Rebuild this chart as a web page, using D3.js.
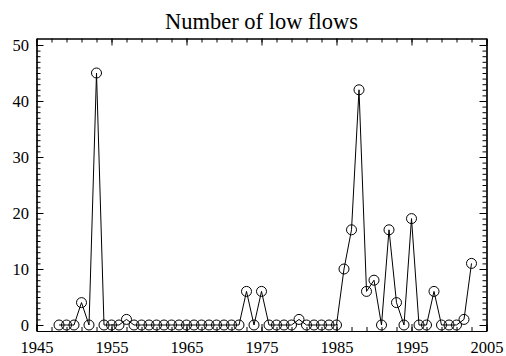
<!DOCTYPE html>
<html>
<head>
<meta charset="utf-8">
<script src="https://cdn.jsdelivr.net/npm/d3@7"></script>
<style>
  html, body { margin: 0; padding: 0; background: #fff; }
  svg text { font-family: "Liberation Serif", "Times New Roman", serif; }
</style>
</head>
<body>
<svg id="chart" width="506" height="356"></svg>
<script>
// Annual count of low-flow events
const years = [
  1948, 1949, 1950, 1951, 1952, 1953, 1954, 1955, 1956, 1957,
  1958, 1959, 1960, 1961, 1962, 1963, 1964, 1965, 1966, 1967,
  1968, 1969, 1970, 1971, 1972, 1973, 1974, 1975, 1976, 1977,
  1978, 1979, 1980, 1981, 1982, 1983, 1984, 1985, 1986, 1987,
  1988, 1989, 1990, 1991, 1992, 1993, 1994, 1995, 1996, 1997,
  1998, 1999, 2000, 2001, 2002, 2003
];
const lowFlows = [
  0, 0, 0, 4, 0, 45, 0, 0, 0, 1,
  0, 0, 0, 0, 0, 0, 0, 0, 0, 0,
  0, 0, 0, 0, 0, 6, 0, 6, 0, 0,
  0, 0, 1, 0, 0, 0, 0, 0, 10, 17,
  42, 6, 8, 0, 17, 4, 0, 19, 0, 0,
  6, 0, 0, 0, 1, 11
];

const xMajorTicks = [1945, 1955, 1965, 1975, 1985, 1995, 2005];
const xMinorTicks = d3.range(1945, 2006, 2);
const yMajorTicks = [0, 10, 20, 30, 40, 50];
const yMinorTicks = d3.range(0, 51, 1);
const xRange = [1945, 2005];
const yRange = [-1.07, 51.16];
const title = "Number of low flows";

const svg = d3.select("#chart");
const plotLeft = 36.5, plotRight = 486.5, plotTop = 38.5, plotBottom = 331;

const x = d3.scaleLinear().domain(xRange).range([plotLeft, plotRight]);
const y = d3.scaleLinear().domain(yRange).range([plotBottom, plotTop]);

const major = 7, minor = 4;
const serif = '"Liberation Serif", "Times New Roman", serif';

function styleAxis(g, fontSize) {
  g.attr("font-family", null).attr("font-size", null);
  g.selectAll("path.domain").attr("stroke", "#000").attr("stroke-width", 1.2);
  g.selectAll(".tick line").attr("stroke", "#000").attr("stroke-width", 1);
  g.selectAll(".tick text")
    .attr("fill", "#000")
    .style("font-family", serif)
    .style("font-size", fontSize + "px");
}

// Bottom axis with year labels
svg.append("g").attr("transform", `translate(0,${plotBottom})`)
  .call(d3.axisBottom(x).tickValues(xMinorTicks).tickSize(-minor).tickSizeOuter(0).tickFormat(""))
  .call(g => styleAxis(g, 16.5));
svg.append("g").attr("transform", `translate(0,${plotBottom})`)
  .call(d3.axisBottom(x).tickValues(xMajorTicks).tickSize(-major).tickSizeOuter(0).tickPadding(10).tickFormat(d3.format("d")))
  .call(g => styleAxis(g, 16.5));

// Top axis, ticks only
svg.append("g").attr("transform", `translate(0,${plotTop})`)
  .call(d3.axisTop(x).tickValues(xMinorTicks).tickSize(-minor).tickSizeOuter(0).tickFormat(""))
  .call(g => styleAxis(g, 16.5));
svg.append("g").attr("transform", `translate(0,${plotTop})`)
  .call(d3.axisTop(x).tickValues(xMajorTicks).tickSize(-major).tickSizeOuter(0).tickFormat(""))
  .call(g => styleAxis(g, 16.5));

// Left axis with count labels
svg.append("g").attr("transform", `translate(${plotLeft},0)`)
  .call(d3.axisLeft(y).tickValues(yMinorTicks).tickSize(-minor).tickSizeOuter(0).tickFormat(""))
  .call(g => styleAxis(g, 16.5));
svg.append("g").attr("transform", `translate(${plotLeft},0)`)
  .call(d3.axisLeft(y).tickValues(yMajorTicks).tickSize(-major).tickSizeOuter(0).tickPadding(7.5).tickFormat(d3.format("d")))
  .call(g => styleAxis(g, 16.5));

// Right axis, ticks only
svg.append("g").attr("transform", `translate(${plotRight},0)`)
  .call(d3.axisRight(y).tickValues(yMinorTicks).tickSize(-minor).tickSizeOuter(0).tickFormat(""))
  .call(g => styleAxis(g, 16.5));
svg.append("g").attr("transform", `translate(${plotRight},0)`)
  .call(d3.axisRight(y).tickValues(yMajorTicks).tickSize(-major).tickSizeOuter(0).tickFormat(""))
  .call(g => styleAxis(g, 16.5));

// Series line and hollow circle markers
const pts = years.map((yr, i) => ({ yr, v: lowFlows[i] }));
svg.append("path")
  .datum(pts)
  .attr("fill", "none")
  .attr("stroke", "#000")
  .attr("stroke-width", 1)
  .attr("d", d3.line().x(d => x(d.yr)).y(d => y(d.v)));

svg.append("g").selectAll("circle")
  .data(pts)
  .join("circle")
  .attr("cx", d => x(d.yr))
  .attr("cy", d => y(d.v))
  .attr("r", 5)
  .attr("fill", "none")
  .attr("stroke", "#000")
  .attr("stroke-width", 1);

// Title
svg.append("text")
  .attr("x", (plotLeft + plotRight) / 2)
  .attr("y", 29)
  .attr("text-anchor", "middle")
  .attr("fill", "#000")
  .style("font-family", serif)
  .style("font-size", "22.5px")
  .text(title);
</script>
</body>
</html>
